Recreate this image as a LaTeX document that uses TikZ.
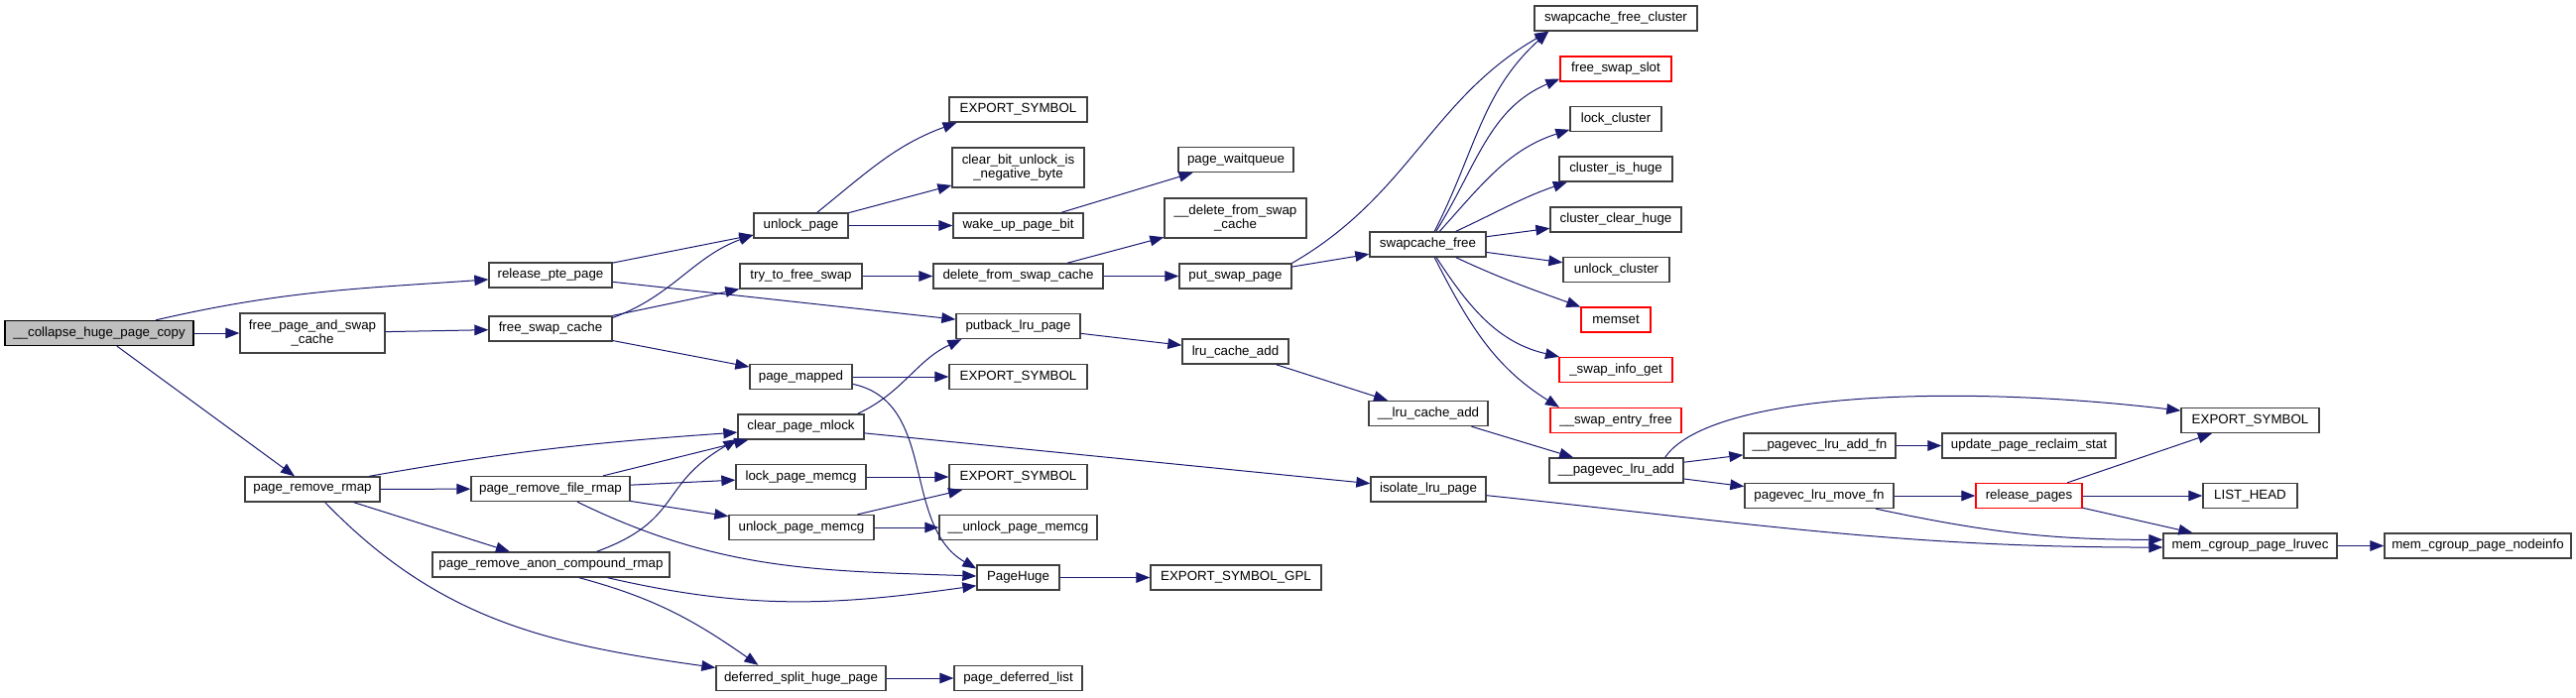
\documentclass[tikz,border=0pt]{standalone}
\usepackage{fontspec}
\setmainfont{Liberation Sans}
\usetikzlibrary{arrows.meta}
\definecolor{midblue}{HTML}{191970}
\def\px{0.75pt}

\begin{document}
\begin{tikzpicture}[x=\px, y=-\px,
  fn/.style={draw=black!75, line width=1pt, fill=white, inner sep=0pt,
    minimum height=25*\px, align=center, font=\fontsize{10}{11}\selectfont},
  rootfn/.style={fn, draw=black, fill=black!25},
  redfn/.style={fn, draw=red},
  boxw/.style={minimum width=#1*\px},
  tall/.style={minimum height=40*\px},
  calls/.style={draw=midblue, line width=\px, -{Triangle[length=10.5pt, width=8pt]}}]
  \useasboundingbox (0,0) rectangle (2597,703);
  % --- functions (pixel coords, y grows downwards) ---
  \node[rootfn, boxw=190] (collapse) at (100,336) {\_\_collapse\_huge\_page\_copy};
  \node[fn, boxw=146, tall] (fpasc) at (315,336) {free\_page\_and\_swap\\\_cache};
  \node[fn, boxw=136] (prmap) at (315,493.5) {page\_remove\_rmap};
  \node[fn, boxw=124] (rpte) at (555,277.5) {release\_pte\_page};
  \node[fn, boxw=124] (fsc) at (555,331.5) {free\_swap\_cache};
  \node[fn, boxw=160] (prfr) at (555,493) {page\_remove\_file\_rmap};
  \node[fn, boxw=239] (pracr) at (555.5,569.5) {page\_remove\_anon\_compound\_rmap};
  \node[fn, boxw=95] (unlock) at (807.5,227.5) {unlock\_page};
  \node[fn, boxw=123] (ttfs) at (807.5,278.5) {try\_to\_free\_swap};
  \node[fn, boxw=103] (pmapped) at (807.5,380) {page\_mapped};
  \node[fn, boxw=127] (cpm) at (807.5,430.5) {clear\_page\_mlock};
  \node[fn, boxw=131] (lpm) at (807.5,481) {lock\_page\_memcg};
  \node[fn, boxw=146] (upm) at (808,532) {unlock\_page\_memcg};
  \node[fn, boxw=171] (dshp) at (807.5,684) {deferred\_split\_huge\_page};
  \node[fn, boxw=139] (esa) at (1026.5,110.5) {EXPORT\_SYMBOL};
  \node[fn, boxw=133, tall] (cbu) at (1026.5,169) {clear\_bit\_unlock\_is\\\_negative\_byte};
  \node[fn, boxw=131] (wupb) at (1026.5,227.5) {wake\_up\_page\_bit};
  \node[fn, boxw=171] (dfsc) at (1026.5,278.5) {delete\_from\_swap\_cache};
  \node[fn, boxw=125] (plru) at (1026.5,329) {putback\_lru\_page};
  \node[fn, boxw=139] (esb) at (1026.5,380) {EXPORT\_SYMBOL};
  \node[fn, boxw=139] (esc) at (1026.5,481) {EXPORT\_SYMBOL};
  \node[fn, boxw=159] (uupm) at (1026.5,532) {\_\_unlock\_page\_memcg};
  \node[fn, boxw=83] (phuge) at (1026.5,582.5) {PageHuge};
  \node[fn, boxw=129] (pdl) at (1026.5,684) {page\_deferred\_list};
  \node[fn, boxw=116] (pwq) at (1246,161) {page\_waitqueue};
  \node[fn, boxw=143, tall] (udfsc) at (1245.5,220) {\_\_delete\_from\_swap\\\_cache};
  \node[fn, boxw=113] (psp) at (1245.5,278.5) {put\_swap\_page};
  \node[fn, boxw=107] (lca) at (1245.5,354.5) {lru\_cache\_add};
  \node[fn, boxw=172] (esgpl) at (1246,582.5) {EXPORT\_SYMBOL\_GPL};
  \node[fn, boxw=117] (scf) at (1439.5,246.5) {swapcache\_free};
  \node[fn, boxw=120] (ulca) at (1440,417) {\_\_lru\_cache\_add};
  \node[fn, boxw=116] (ilp) at (1440,493.5) {isolate\_lru\_page};
  \node[fn, boxw=164] (scfc) at (1629,18.5) {swapcache\_free\_cluster};
  \node[redfn, boxw=112] (fss) at (1629,69.5) {free\_swap\_slot};
  \node[fn, boxw=92] (lc) at (1629,120) {lock\_cluster};
  \node[fn, boxw=114] (cih) at (1629,170.5) {cluster\_is\_huge};
  \node[fn, boxw=132] (cch) at (1629,221.5) {cluster\_clear\_huge};
  \node[fn, boxw=107] (uc) at (1629.5,272) {unlock\_cluster};
  \node[redfn, boxw=70] (ms) at (1629,322.5) {memset};
  \node[redfn, boxw=114] (sig) at (1629,373) {\_swap\_info\_get};
  \node[redfn, boxw=132] (sef) at (1629,424) {\_\_swap\_entry\_free};
  \node[fn, boxw=135] (pla) at (1629.5,474.5) {\_\_pagevec\_lru\_add};
  \node[fn, boxw=153] (plaf) at (1834.5,449.5) {\_\_pagevec\_lru\_add\_fn};
  \node[fn, boxw=150] (plmf) at (1834,500) {pagevec\_lru\_move\_fn};
  \node[fn, boxw=175] (uprs) at (2045.5,449.5) {update\_page\_reclaim\_stat};
  \node[redfn, boxw=107] (rp) at (2045.5,500) {release\_pages};
  \node[fn, boxw=139] (esd) at (2268.5,424) {EXPORT\_SYMBOL};
  \node[fn, boxw=95] (lh) at (2268.5,500) {LIST\_HEAD};
  \node[fn, boxw=175] (mcpl) at (2268.5,550.5) {mem\_cgroup\_page\_lruvec};
  \node[fn, boxw=188] (mcpn) at (2498,550.5) {mem\_cgroup\_page\_nodeinfo};
  % --- straight calls ---
  \foreach \a/\b in {collapse/fpasc, collapse/prmap, fpasc/fsc, rpte/unlock, rpte/plru,
      fsc/ttfs, fsc/pmapped, unlock/cbu, unlock/wupb, wupb/pwq, ttfs/dfsc, dfsc/udfsc,
      dfsc/psp, psp/scf, scf/cch, scf/uc, plru/lca, lca/ulca, ulca/pla, pla/plaf,
      pla/plmf, plaf/uprs, plmf/rp, rp/esd, rp/lh, rp/mcpl, mcpl/mcpn, pmapped/esb,
      cpm/ilp, prmap/prfr, prmap/pracr, prfr/cpm, prfr/lpm, prfr/upm, lpm/esc,
      upm/esc, upm/uupm, phuge/esgpl, dshp/pdl}
    \draw[calls] (\a) -- (\b);
  % --- curved calls ---
  \draw[calls] (collapse) to[out=13,in=184] (rpte);
  \draw[calls] (fsc.10) to[out=20,in=200] (unlock.191);
  \draw[calls] (unlock) to[out=39,in=200] (esa.192);
  \draw[calls] (psp.north east) to[out=30,in=210] (scfc.191);
  % swapcache_free fan
  \draw[calls] (scf) to[out=63,in=222] (scfc.191);
  \draw[calls] (scf) to[out=58,in=203] (fss.190);
  \draw[calls] (scf) to[out=48,in=198] (lc.193);
  \draw[calls] (scf) to[out=25,in=199] (cih.195);
  \draw[calls] (scf) to[out=-25,in=160] (ms);
  \draw[calls] (scf) to[out=-57,in=167] (sig);
  \draw[calls] (scf) to[out=-63,in=148] (sef.167);
  % lru side
  \draw[calls] (pla.15) .. controls (1720,400) and (1950,385) .. (esd.172);
  \draw[calls] (plmf.-13) to[out=-12,in=180] (mcpl.176);
  \draw[calls] (ilp.-6) to[out=-6,in=180] (mcpl.181);
  \draw[calls] (cpm.13) to[out=25,in=205] (plru.193);
  % rmap side
  \draw[calls] (pmapped.-8) to[out=-12,in=150] (phuge.168);
  \draw[calls] (prmap.13) to[out=10,in=184] (cpm.185);
  \draw[calls] (prmap) to[out=-46,in=172] (dshp.173);
  \draw[calls] (prfr) to[out=-26,in=178] (phuge);
  \draw[calls] (pracr.16) to[out=20,in=210,looseness=1.3] (cpm.191);
  \draw[calls] (pracr) to[out=-13,in=188] (phuge.191);
  \draw[calls] (pracr.-25) to[out=-15,in=145] (dshp.163);
\end{tikzpicture}
\end{document}
